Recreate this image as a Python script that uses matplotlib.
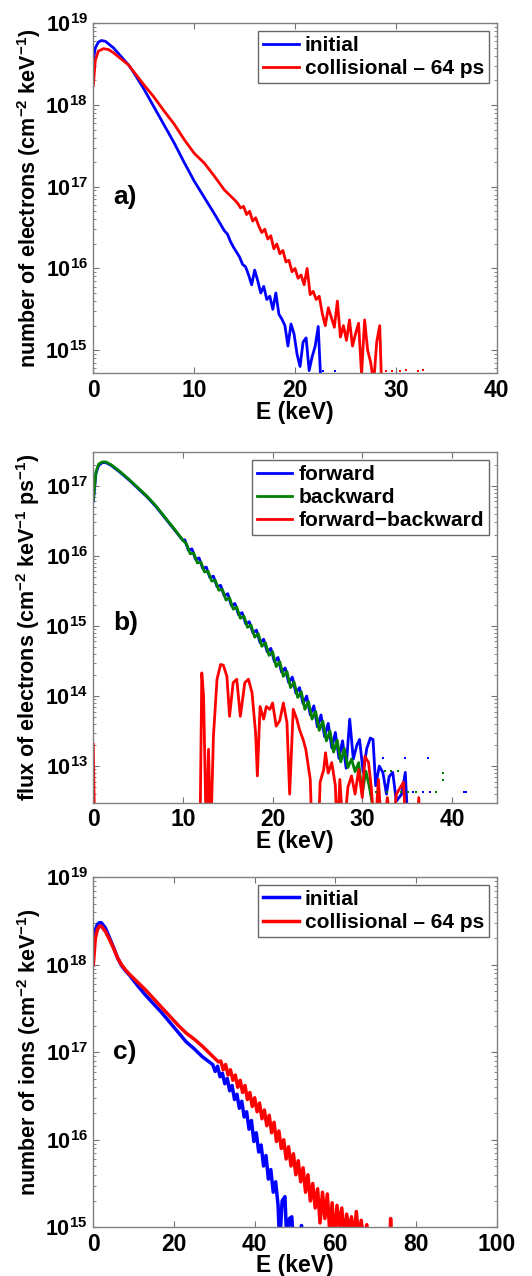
import numpy as np
import matplotlib
matplotlib.use('Agg')
import matplotlib.pyplot as plt
from matplotlib import ticker

plt.rcParams['font.family'] = ['Liberation Sans', 'DejaVu Sans']
plt.rcParams['font.weight'] = 'bold'
plt.rcParams['mathtext.fontset'] = 'custom'
plt.rcParams['mathtext.rm'] = 'Liberation Sans:bold'
plt.rcParams['mathtext.it'] = 'Liberation Sans:bold'
plt.rcParams['mathtext.bf'] = 'Liberation Sans:bold'

# ---- panel a : electron spectra (log10 of number, cm^-2 keV^-1) ----
a_init_E = [0, 0.2, 0.5, 0.8, 1.2, 2, 3, 3.5, 4, 5, 6, 7, 8, 9, 10, 11, 12, 13,
            13.3, 13.6, 13.9, 14.2, 14.5, 14.8, 15.1, 15.4, 15.7, 16.0,
            16.3, 16.6, 16.9, 17.2, 17.5, 17.8, 18.1, 18.4, 18.7, 19.0,
            19.3, 19.6, 19.9, 20.2, 20.5, 20.8, 21.1, 21.4, 21.7, 22.0, 22.3, 22.6]
a_init_log = [18.55, 18.70, 18.77, 18.79, 18.78, 18.70, 18.56, 18.49, 18.40, 18.20,
              17.98, 17.76, 17.54, 17.30, 17.07, 16.87, 16.67, 16.46,
              16.42, 16.33, 16.26, 16.20, 16.14, 16.05, 16.02, 15.92, 15.80, 15.98,
              15.85, 15.70, 15.78, 15.62, 15.66, 15.50, 15.70, 15.44, 15.38, 15.30,
              15.05, 15.32, 15.20, 14.95, 14.80, 15.10, 15.15, 14.75, 14.92, 15.05, 15.29, 14.50]
a_init_dots_E = [22.8, 24.0]
a_init_dots_log = [14.74, 14.74]

a_coll_E = [0, 0.2, 0.5, 1.0, 1.5, 2, 3, 3.5, 4, 5, 6, 7, 8, 9, 10, 11, 12, 13, 14,
            14.3, 14.6, 14.9, 15.2, 15.5, 15.8, 16.1, 16.4, 16.7, 17.0,
            17.3, 17.6, 17.9, 18.2, 18.5, 18.8, 19.1, 19.4, 19.7, 20.0,
            20.3, 20.6, 20.9, 21.2, 21.5, 21.8, 22.1, 22.4, 22.7, 23.0,
            23.3, 23.6, 23.9, 24.2, 24.5, 24.8, 25.1, 25.4, 25.7, 26.0,
            26.3, 26.6, 26.9, 27.2, 27.5, 27.8, 28.1, 28.4, 28.6]
a_coll_log = [18.24, 18.55, 18.66, 18.69, 18.68, 18.64, 18.54, 18.49, 18.41, 18.25,
              18.10, 17.93, 17.77, 17.58, 17.41, 17.29, 17.13, 16.96, 16.84,
              16.80, 16.74, 16.76, 16.66, 16.70, 16.58, 16.62, 16.52, 16.44, 16.48,
              16.36, 16.40, 16.24, 16.30, 16.18, 16.22, 16.08, 16.10, 15.96, 16.00,
              15.88, 15.92, 15.80, 16.00, 15.68, 15.72, 15.62, 15.66, 15.45, 15.30,
              15.52, 15.40, 15.28, 15.60, 15.16, 15.30, 15.12, 15.37, 15.05, 15.20,
              15.33, 14.70, 15.37, 15.00, 14.85, 14.60, 15.10, 15.30, 14.50]
a_coll_dots_E = [29.0, 29.6, 30.4, 31.0, 32.2, 32.7]
a_coll_dots_log = [14.74, 14.74, 14.74, 14.76, 14.74, 14.76]

# ---- panel b : electron flux (log10, cm^-2 keV^-1 ps^-1) ----
b_fwd_E = [0, 0.3, 0.6, 1.0, 1.4, 2, 3, 4, 5, 6, 7, 8, 9, 10,
           10.2, 10.6, 11.0, 11.4, 11.8, 12.2, 12.6, 13.0, 13.4, 13.8,
           14.2, 14.6, 15.0, 15.4, 15.8, 16.2, 16.6, 17.0, 17.4, 17.8,
           18.2, 18.6, 19.0, 19.4, 19.8, 20.2, 20.6, 21.0, 21.4, 21.8,
           22.2, 22.6, 23.0, 23.4, 23.8, 24.2, 24.6, 25.0, 25.4, 25.8,
           26.2, 26.6, 27.0, 27.4, 27.8, 28.2, 28.6, 29.0, 29.4, 29.7,
           30.1, 30.5, 30.9, 31.2, 31.5, 31.9, 32.3, 32.7, 33.0, 33.4,
           33.8, 34.4, 34.8, 35.0]
b_fwd_log = [16.78, 17.18, 17.29, 17.33, 17.33, 17.29, 17.19, 17.08, 16.96, 16.84,
             16.70, 16.54, 16.38, 16.22,
             16.23, 16.08, 16.10, 15.95, 15.97, 15.82, 15.84, 15.69, 15.71, 15.56,
             15.58, 15.43, 15.46, 15.29, 15.32, 15.16, 15.19, 15.03, 15.06, 14.90,
             14.94, 14.76, 14.81, 14.63, 14.68, 14.49, 14.55, 14.34, 14.40, 14.19,
             14.27, 14.04, 14.12, 13.89, 14.00, 13.73, 13.86, 13.56, 13.73, 13.42,
             13.61, 13.26, 13.48, 13.11, 13.36, 12.97, 13.67, 13.10, 13.30, 13.38,
             12.91, 13.25, 13.40, 13.38, 12.72, 13.00, 12.91, 12.60, 12.85, 12.91,
             12.50, 12.60, 12.91, 12.40]
b_fwd_dots_E = [32.3, 34.8, 37.3, 35.7, 36.8, 37.6, 41.3, 41.6]
b_fwd_dots_log = [13.11, 13.11, 13.11, 12.63, 12.63, 12.63, 12.63, 12.63]

b_bwd_E = [0, 0.3, 0.6, 1.0, 1.4, 2, 3, 4, 5, 6, 7, 8, 9,
           10.0, 10.4, 10.8, 11.2, 11.6, 12.0, 12.4, 12.8, 13.2, 13.6,
           14.0, 14.4, 14.8, 15.2, 15.6, 16.0, 16.4, 16.8, 17.2, 17.6,
           18.0, 18.4, 18.8, 19.2, 19.6, 20.0, 20.4, 20.8, 21.2, 21.6,
           22.0, 22.4, 22.8, 23.2, 23.6, 24.0, 24.4, 24.8, 25.2, 25.6,
           26.0, 26.4, 26.8, 27.2, 27.6, 28.0, 28.4, 28.8, 29.2, 29.6,
           30.0, 30.4, 30.8, 31.2]
b_bwd_log = [16.80, 17.20, 17.31, 17.34, 17.34, 17.30, 17.20, 17.09, 16.97, 16.85,
             16.71, 16.55, 16.39,
             16.22, 16.17, 16.03, 16.04, 15.90, 15.91, 15.77, 15.78, 15.64, 15.65,
             15.51, 15.52, 15.37, 15.40, 15.24, 15.27, 15.11, 15.14, 14.98, 15.01,
             14.84, 14.89, 14.71, 14.76, 14.58, 14.63, 14.42, 14.49, 14.28, 14.35,
             14.12, 14.20, 13.98, 14.06, 13.81, 13.92, 13.67, 13.78, 13.51, 13.64,
             13.36, 13.50, 13.20, 13.37, 13.06, 13.25, 12.98, 13.10, 12.92, 13.05,
             12.60, 12.93, 12.70, 12.40]
b_bwd_dots_E = [32.5, 33.2, 34.0, 31.5, 32.8, 34.3, 35.1, 36.0, 38.2, 39.0, 39.0]
b_bwd_dots_log = [12.93, 12.93, 12.93, 12.63, 12.63, 12.63, 12.63, 12.63, 12.63, 12.80, 12.90]

b_diff_E = [0, 0.15, 11.9, 12.1, 12.3, 12.6, 12.85, 13.1, 13.4, 13.8,
            14.2, 14.5, 14.9, 15.2, 15.6, 16.0, 16.4, 16.9, 17.3, 17.7,
            18.1, 18.3, 18.6, 19.0, 19.3, 19.7, 20.0, 20.4, 20.8, 21.2,
            21.6, 21.9, 22.3, 22.7, 23.0, 23.4, 23.7, 24.2, 24.4, 25.1,
            25.3, 25.7, 25.9, 26.2, 26.6, 27.0, 27.2, 27.5, 27.9, 28.4,
            28.8, 29.2, 29.6, 30.0, 30.3, 30.7, 31.0, 31.4, 31.8, 32.2,
            32.8, 33.3, 33.8, 34.6, 34.9, 36.1, 36.3, 36.5]
b_diff_log = [13.31, 12.0, 12.0, 14.33, 14.0, 12.0, 13.24, 12.0, 13.43, 14.24,
              14.45, 14.44, 14.28, 13.71, 14.19, 14.24, 13.71, 14.19, 14.24, 14.05,
              13.48, 12.86, 13.85, 13.67, 13.85, 13.81, 13.90, 13.57, 13.65, 13.90,
              13.62, 12.60, 13.81, 13.67, 13.52, 13.38, 13.24, 12.81, 12.0, 12.0,
              12.77, 12.95, 13.19, 12.90, 13.05, 12.72, 12.0, 12.81, 12.0, 12.70,
              12.86, 12.60, 12.95, 12.55, 13.14, 13.05, 12.70, 12.0, 12.81, 12.0,
              12.55, 12.0, 12.60, 12.77, 12.0, 12.0, 12.55, 12.0]

# ---- panel c : ion spectra (log10 of number, cm^-2 keV^-1) ----
c_init_E = [0, 0.5, 1, 1.5, 2, 3, 4, 5, 6, 7, 8, 9, 11, 13, 15, 17, 19, 21, 23, 25, 27, 29,
            29.6, 30.2, 30.8, 31.4, 32.0, 32.6, 33.2, 33.8, 34.4, 35.0,
            35.6, 36.2, 36.8, 37.4, 38.0, 38.6, 39.2, 39.8, 40.4, 41.0,
            41.6, 42.2, 42.8, 43.4, 44.0, 44.6, 45.2, 45.8, 46.2, 46.8,
            47.5, 48.0, 48.6, 49.2, 49.6, 51.3, 51.6, 51.9]
c_init_log = [18.30, 18.40, 18.46, 18.48, 18.48, 18.42, 18.31, 18.20, 18.08, 17.99, 17.93,
              17.88, 17.76, 17.65, 17.55, 17.45, 17.34, 17.23, 17.12, 17.04, 16.95, 16.88,
              16.86, 16.78, 16.84, 16.72, 16.76, 16.64, 16.70, 16.56, 16.62, 16.46,
              16.52, 16.36, 16.44, 16.26, 16.32, 16.12, 16.22, 15.98, 16.08, 15.86,
              15.94, 15.70, 15.82, 15.55, 15.66, 15.40, 15.52, 15.25, 14.80, 15.30,
              15.35, 14.80, 15.10, 15.12, 14.80, 14.80, 15.02, 14.80]

c_coll_E = [0, 0.5, 1, 1.5, 2, 3, 4, 5, 6, 7, 8, 9, 11, 13, 15, 17, 19, 21, 23, 25, 27, 29, 31,
            31.6, 32.2, 32.8, 33.4, 34.0, 34.6, 35.2, 35.8, 36.4, 37.0,
            37.6, 38.2, 38.8, 39.4, 40.0, 40.6, 41.2, 41.8, 42.4, 43.0,
            43.6, 44.2, 44.8, 45.4, 46.0, 46.6, 47.2, 47.8, 48.4, 49.0,
            49.6, 50.2, 50.8, 51.4, 52.0, 52.6, 53.2, 53.8, 54.4, 55.0,
            55.6, 56.2, 56.8, 57.4, 58.0, 58.6, 59.2, 59.8, 60.4, 61.0,
            61.6, 62.2, 62.8, 63.4, 64.0, 64.6, 65.2, 65.8, 66.4, 67.0,
            67.8, 68.2, 73.5, 73.7, 73.9]
c_coll_log = [18.00, 18.30, 18.40, 18.44, 18.44, 18.38, 18.29, 18.19, 18.08, 18.00, 17.94,
              17.89, 17.80, 17.71, 17.61, 17.51, 17.41, 17.31, 17.22, 17.15, 17.07, 16.98, 16.89,
              16.90, 16.80, 16.86, 16.74, 16.80, 16.68, 16.74, 16.60, 16.68, 16.54,
              16.62, 16.46, 16.54, 16.38, 16.48, 16.32, 16.42, 16.24, 16.34, 16.16,
              16.28, 16.08, 16.20, 15.98, 16.10, 15.90, 16.00, 15.78, 15.92, 15.70,
              15.84, 15.60, 15.76, 15.52, 15.68, 15.40, 15.60, 15.30, 15.50, 15.22,
              15.44, 15.05, 15.40, 15.10, 15.38, 14.95, 15.28, 14.85, 15.25, 15.00,
              15.22, 14.85, 15.15, 14.95, 15.12, 14.85, 15.18, 14.85, 15.08, 14.85,
              15.03, 14.80, 14.80, 15.10, 14.80]


def p10(v):
    return 10.0 ** np.array(v)


def decade_fmt(y, pos):
    return r'$\mathbf{10^{%d}}$' % int(round(np.log10(y)))


def style(ax, xmax, xticks, ylo, yhi, ydecs, ylabel, tag, tag_y):
    ax.set_yscale('log')
    ax.set_xlim(0, xmax)
    ax.set_ylim(ylo, yhi)
    ax.set_xticks(xticks)
    ax.yaxis.set_major_locator(ticker.FixedLocator([10.0 ** d for d in ydecs]))
    ax.yaxis.set_minor_locator(ticker.LogLocator(base=10, subs=np.arange(2, 10), numticks=20))
    ax.yaxis.set_major_formatter(ticker.FuncFormatter(decade_fmt))
    ax.yaxis.set_minor_formatter(ticker.NullFormatter())
    ax.tick_params(which='both', direction='in', top=True, right=True,
                   color='0.45', pad=4)
    ax.tick_params(axis='y', labelsize=15.5)
    ax.tick_params(axis='x', labelsize=16.5)
    ax.tick_params(which='major', length=4)
    ax.tick_params(which='minor', length=2)
    for s in ax.spines.values():
        s.set_color('0.5')
        s.set_linewidth(1.0)
    for lab in ax.get_xticklabels():
        lab.set_fontweight('bold')
    ax.set_xlabel('E (keV)', fontsize=16.5, fontweight='bold', labelpad=-1)
    ax.set_ylabel(ylabel, fontsize=15.5, fontweight='bold', labelpad=2)
    ax.text(0.05, tag_y, tag, transform=ax.transAxes, fontsize=19,
            fontweight='bold', ha='left', va='center')


fig = plt.figure(figsize=(5.32, 12.76), dpi=100)
axa = fig.add_axes([0.1754, 0.7074, 0.7583, 0.2743])
axb = fig.add_axes([0.1754, 0.3709, 0.7583, 0.2746])
axc = fig.add_axes([0.1754, 0.0382, 0.7583, 0.2743])

lw = 2.0
blue, red, green = (0, 0, 1), (1, 0, 0), (0, 0.5, 0)

# a)
axa.plot(a_init_E, p10(a_init_log), color=blue, lw=lw, label='initial')
axa.plot(a_coll_E, p10(a_coll_log), color=red, lw=lw, label='collisional \u2013 64 ps')
axa.plot(a_init_dots_E, p10(a_init_dots_log), 's', color=blue, ms=2, mew=0)
axa.plot(a_coll_dots_E, p10(a_coll_dots_log), 's', color=red, ms=2, mew=0)
style(axa, 40, [0, 10, 20, 30, 40], 5.2e14, 1e19, range(15, 20),
      r'number of electrons (cm$^{-2}$ keV$^{-1}$)', 'a)', 0.504)

# b)
axb.plot(b_fwd_E, p10(b_fwd_log), color=blue, lw=lw, label='forward')
axb.plot(b_bwd_E, p10(b_bwd_log), color=green, lw=lw, label='backward')
axb.plot(b_diff_E, p10(b_diff_log), color=red, lw=lw, label='forward\u2212backward')
axb.plot(b_fwd_dots_E, p10(b_fwd_dots_log), 's', color=blue, ms=2, mew=0)
axb.plot(b_bwd_dots_E, p10(b_bwd_dots_log), 's', color=green, ms=2, mew=0)
style(axb, 45, [0, 10, 20, 30, 40], 3e12, 3e17, range(13, 18),
      r'flux of electrons (cm$^{-2}$ keV$^{-1}$ ps$^{-1}$)', 'b)', 0.513)

# c)
axc.plot(c_init_E, p10(c_init_log), color=blue, lw=lw + 0.5, label='initial')
axc.plot(c_coll_E, p10(c_coll_log), color=red, lw=lw + 0.5, label='collisional \u2013 64 ps')
style(axc, 100, [0, 20, 40, 60, 80, 100], 1e15, 1e19, range(15, 20),
      r'number of ions (cm$^{-2}$ keV$^{-1}$)', 'c)', 0.50)

for ax in (axa, axb, axc):
    leg = ax.legend(loc='upper right', fontsize=15, frameon=True, fancybox=False,
                    framealpha=1, edgecolor='0.4', handlelength=1.7, handletextpad=0.3,
                    borderpad=0.25, labelspacing=0.2, borderaxespad=0.35)
    leg.get_frame().set_linewidth(1.0)
    for t in leg.get_texts():
        t.set_fontweight('bold')

fig.savefig('out.png', dpi=100)
